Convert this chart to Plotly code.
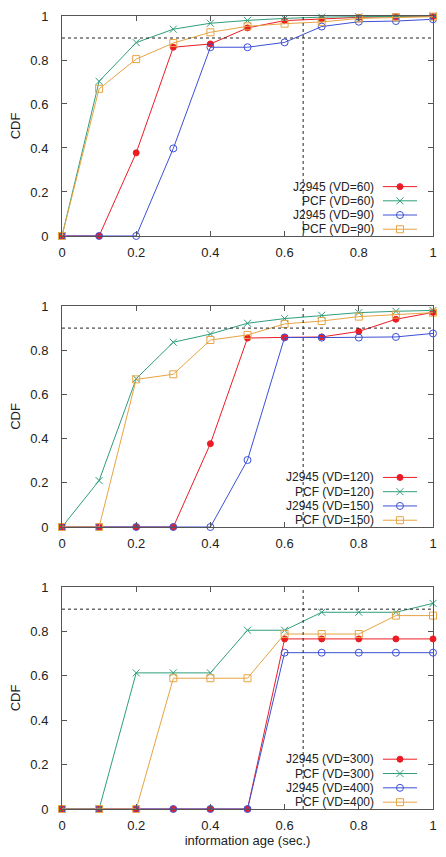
import plotly.graph_objects as go

# ---------------- data ----------------
age = [0, 0.1, 0.2, 0.3, 0.4, 0.5, 0.6, 0.7, 0.8, 0.9, 1.0]

# panel 1
j2945_vd60 = [0, 0, 0.378, 0.858, 0.873, 0.946, 0.979, 0.986, 0.994, 0.997, 0.998]
pcf_vd60 = [0, 0.703, 0.879, 0.940, 0.967, 0.980, 0.989, 0.995, 0.997, 0.998, 1.0]
j2945_vd90 = [0, 0, 0, 0.398, 0.858, 0.858, 0.880, 0.952, 0.974, 0.977, 0.985]
pcf_vd90 = [0, 0.669, 0.804, 0.877, 0.926, 0.953, 0.965, 0.973, 0.989, 0.994, 0.997]

# panel 2
j2945_vd120 = [0, 0, 0, 0, 0.377, 0.855, 0.858, 0.860, 0.885, 0.940, 0.971]
pcf_vd120 = [0, 0.210, 0.671, 0.836, 0.873, 0.922, 0.943, 0.958, 0.970, 0.976, 0.980]
j2945_vd150 = [0, 0, 0, 0, 0, 0.303, 0.858, 0.857, 0.857, 0.860, 0.876]
pcf_vd150 = [0, 0, 0.668, 0.691, 0.846, 0.869, 0.919, 0.932, 0.952, 0.961, 0.970]

# panel 3
j2945_vd300 = [0, 0, 0, 0, 0, 0, 0.766, 0.766, 0.766, 0.766, 0.766]
pcf_vd300 = [0, 0, 0.613, 0.613, 0.613, 0.805, 0.805, 0.886, 0.886, 0.886, 0.926]
j2945_vd400 = [0, 0, 0, 0, 0, 0, 0.704, 0.704, 0.704, 0.704, 0.704]
pcf_vd400 = [0, 0, 0, 0.589, 0.589, 0.589, 0.788, 0.788, 0.788, 0.871, 0.871]

labels_p1 = ["J2945 (VD=60)", "PCF (VD=60)", "J2945 (VD=90)", "PCF (VD=90)"]
labels_p2 = ["J2945 (VD=120)", "PCF (VD=120)", "J2945 (VD=150)", "PCF (VD=150)"]
labels_p3 = ["J2945 (VD=300)", "PCF (VD=300)", "J2945 (VD=400)", "PCF (VD=400)"]

ref_cdf = 0.9
ref_age = 0.65

x_ticks = [0, 0.2, 0.4, 0.6, 0.8, 1]
y_ticks = [0, 0.2, 0.4, 0.6, 0.8, 1]

# ---------------- styles ----------------
RED = "#ec1c24"
GREEN = "#2e9e7c"
BLUE = "#3c50d6"
ORANGE = "#e6a444"
styles = [
    dict(color=RED, symbol="circle", size=6, fill=RED),
    dict(color=GREEN, symbol="x-thin-open", size=7, fill=GREEN),
    dict(color=BLUE, symbol="circle-open", size=7, fill=BLUE),
    dict(color=ORANGE, symbol="square-open", size=7, fill=ORANGE),
]

panels = [
    ([j2945_vd60, pcf_vd60, j2945_vd90, pcf_vd90], labels_p1),
    ([j2945_vd120, pcf_vd120, j2945_vd150, pcf_vd150], labels_p2),
    ([j2945_vd300, pcf_vd300, j2945_vd400, pcf_vd400], labels_p3),
]

FONT = "Liberation Sans, Arial, sans-serif"
# the page body has an 8px default margin, so the figure is sized to fit
W, H = 438, 849
domains = [(0.7226, 1.0), (0.3556, 0.6343), (0.0, 0.28)]

fig = go.Figure()
layout = dict(
    width=W, height=H,
    margin=dict(l=54, r=13, t=8, b=48, autoexpand=False),
    paper_bgcolor="white", plot_bgcolor="white",
    showlegend=False,
    font=dict(family=FONT, size=13, color="#222"),
)
shapes = []
annotations = []

# legend key positions (axis-domain fractions)
key_text_x = 0.847
key_line = (0.865, 0.957)
key_marker_x = 0.911
key_rows = [0.2243, 0.1598, 0.0953, 0.0307]

for p, (series, labels) in enumerate(panels):
    idx = "" if p == 0 else str(p + 1)
    xa, ya = "x" + idx, "y" + idx
    for s, (vals, lab) in enumerate(zip(series, labels)):
        st = styles[s]
        fig.add_trace(go.Scatter(
            x=age, y=vals, mode="lines+markers", name=lab,
            xaxis=xa, yaxis=ya, cliponaxis=False,
            line=dict(color=st["color"], width=1),
            marker=dict(symbol=st["symbol"], size=st["size"], color=st["fill"],
                        line=dict(color=st["color"], width=1)),
        ))
        # legend key
        ry = key_rows[s]
        annotations.append(dict(
            xref=xa + " domain", yref=ya + " domain", x=key_text_x, y=ry,
            text=lab, showarrow=False, xanchor="right", yanchor="middle",
            font=dict(family=FONT, size=12, color="#222"),
        ))
        shapes.append(dict(
            type="line", xref=xa + " domain", yref=ya + " domain",
            x0=key_line[0], x1=key_line[1], y0=ry, y1=ry,
            line=dict(color=st["color"], width=1),
        ))
        fig.add_trace(go.Scatter(
            x=[key_marker_x], y=[ry], mode="markers", xaxis=xa, yaxis=ya,
            hoverinfo="skip", cliponaxis=False,
            marker=dict(symbol=st["symbol"], size=st["size"], color=st["fill"],
                        line=dict(color=st["color"], width=1)),
        ))
    # reference lines
    shapes.append(dict(type="line", xref=xa + " domain", yref=ya,
                       x0=0, x1=1, y0=ref_cdf, y1=ref_cdf,
                       line=dict(color="#222", width=1, dash="dot")))
    shapes.append(dict(type="line", xref=xa, yref=ya + " domain",
                       x0=ref_age, x1=ref_age, y0=0, y1=1,
                       line=dict(color="#222", width=1, dash="dot")))

    axis_common = dict(
        showgrid=False, zeroline=False, showline=True, linecolor="#555",
        linewidth=1, mirror="ticks", ticks="inside", ticklen=5,
        tickcolor="#555", tickfont=dict(family=FONT, size=13, color="#222"),
        fixedrange=True,
    )
    layout["xaxis" + idx] = dict(
        axis_common, range=[0, 1], tickvals=x_ticks,
        ticktext=[("%g" % v) for v in x_ticks], anchor=ya,
        ticklabelstandoff=4,
        title=dict(text="information age (sec.)" if p == 2 else "",
                   font=dict(family=FONT, size=13, color="#222"), standoff=4),
    )
    layout["yaxis" + idx] = dict(
        axis_common, range=[0, 1], tickvals=y_ticks,
        ticktext=[("%g" % v) for v in y_ticks], anchor=xa,
        domain=list(domains[p]), ticklabelstandoff=10,
        title=dict(text="CDF", font=dict(family=FONT, size=13, color="#222"),
                   standoff=8),
    )

layout["shapes"] = shapes
layout["annotations"] = annotations
fig.update_layout(**layout)
fig.write_html("out.html")
